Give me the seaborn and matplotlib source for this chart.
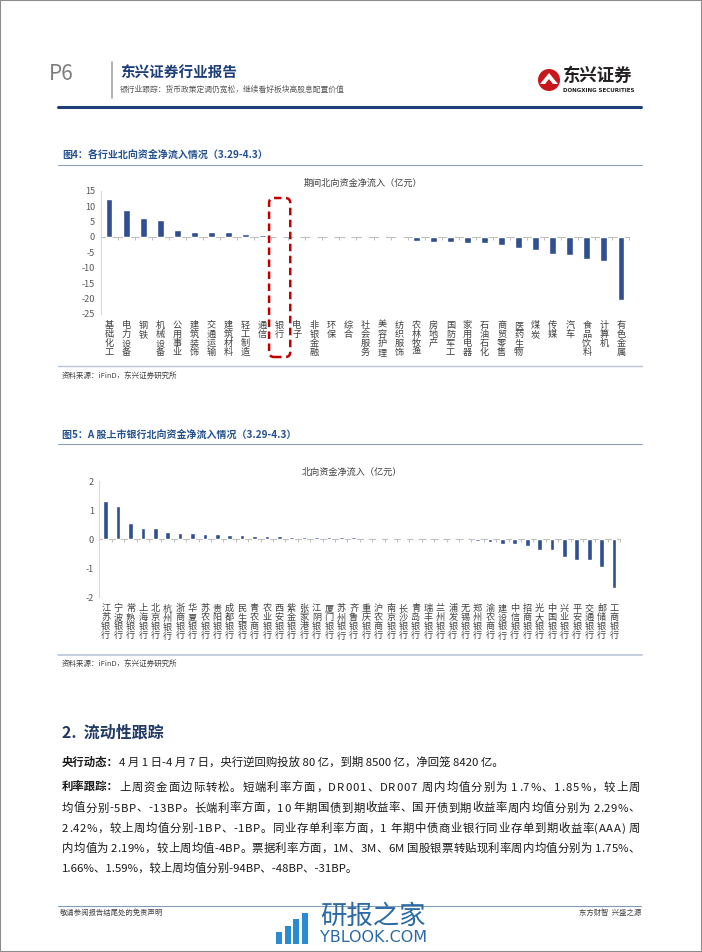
import matplotlib
matplotlib.use("Agg")
import matplotlib.pyplot as plt
import numpy as np
import pandas as pd
import seaborn as sns
from matplotlib.patches import FancyBboxPatch, Rectangle, Circle, Polygon
from matplotlib.transforms import IdentityTransform

# ---- data ----
industries = ["基础化工", "电力设备", "钢铁", "机械设备", "公用事业", "建筑装饰", "交通运输",
              "建筑材料", "轻工制造", "通信", "银行", "电子", "非银金融", "环保", "综合",
              "社会服务", "美容护理", "纺织服饰", "农林牧渔", "房地产", "国防军工", "家用电器",
              "石油石化", "商贸零售", "医药生物", "煤炭", "传媒", "汽车", "食品饮料", "计算机",
              "有色金属"]
industry_flow = [12.3, 8.6, 6.3, 5.5, 2.2, 1.7, 1.7, 1.5, 0.9, 0.65, 0.05, 0.1, 0.05, 0.0, -0.1,
                 -0.4, -0.4, -0.5, -1.3, -1.7, -1.7, -1.9, -1.9, -2.6, -3.6, -4.1, -5.6, -5.9,
                 -7.3, -7.7, -20.4]
industry_yticks = [15, 10, 5, 0, -5, -10, -15, -20, -25]

banks = ["江苏银行", "宁波银行", "常熟银行", "上海银行", "北京银行", "杭州银行", "浙商银行",
         "华夏银行", "苏农银行", "贵阳银行", "成都银行", "民生银行", "青农商行", "农业银行",
         "西安银行", "紫金银行", "张家港行", "江阴银行", "厦门银行", "苏州银行", "齐鲁银行",
         "重庆银行", "沪农商行", "南京银行", "长沙银行", "青岛银行", "瑞丰银行", "兰州银行",
         "浦发银行", "无锡银行", "郑州银行", "渝农商行", "建设银行", "中信银行", "招商银行",
         "光大银行", "中国银行", "兴业银行", "平安银行", "交通银行", "邮储银行", "工商银行"]
bank_flow = [1.30, 1.15, 0.55, 0.39, 0.37, 0.24, 0.20, 0.20, 0.17, 0.16, 0.13, 0.13, 0.12, 0.10,
             0.10, 0.09, 0.09, 0.09, 0.07, 0.07, 0.06, 0.05, 0.04, 0.04, 0.03, 0.01, 0.005, 0.0,
             0.0, -0.01, -0.06, -0.10, -0.15, -0.17, -0.23, -0.38, -0.39, -0.60, -0.70, -0.72,
             -0.96, -1.67]
bank_yticks = [2, 1, 0, -1, -2]

# (bold lead, text, justify to right margin?)
body_lines = [
    ("央行动态：", "4 月 1 日-4 月 7 日，央行逆回购投放 80 亿，到期 8500 亿，净回笼 8420 亿。", False),
    ("利率跟踪：", "上周资金面边际转松。短端利率方面，DR001、DR007 周内均值分别为 1.7%、1.85%，较上周", True),
    ("", "均值分别-5BP、-13BP。长端利率方面，10 年期国债到期收益率、国开债到期收益率周内均值分别为 2.29%、", True),
    ("", "2.42%，较上周均值分别-1BP、-1BP。同业存单利率方面，1 年期中债商业银行同业存单到期收益率(AAA) 周", True),
    ("", "内均值为 2.19%，较上周均值-4BP。票据利率方面，1M、3M、6M 国股银票转贴现利率周内均值分别为 1.75%、", True),
    ("", "1.66%、1.59%，较上周均值分别-94BP、-48BP、-31BP。", False),
]
body_y = [762, 787, 807.5, 828, 848, 868]

W, H = 702, 952
BAR = "#2F4F91"
NAVY = "#1F3F7A"
TITLE_BLUE = "#24518F"
RULE = "#8EA0B8"
BODY_FS = 8.2

sns.set_style("white")
plt.rcParams["font.family"] = ["Noto Sans CJK SC", "DejaVu Sans"]
plt.rcParams["axes.unicode_minus"] = False

fig = plt.figure(figsize=(W / 100, H / 100), dpi=100)
renderer = fig.canvas.get_renderer()


def fx(x):
    return x / W


def fy(y):
    return 1 - y / H


def text(x, y, s, **kw):
    kw.setdefault("va", "center")
    return fig.text(fx(x), fy(y), s, **kw)


def measure(s, **kw):
    t = fig.text(0, 0, s, **kw)
    w = t.get_window_extent(renderer).width
    t.remove()
    return w


def justified(x, y, s, right, **kw):
    """draw s from x so that it ends at right, spreading the gap over every character"""
    bar_w = measure("丨", **kw)
    starts = [measure(s[:i] + "丨", **kw) - bar_w for i in range(len(s))]
    extra = (right - x - measure(s, **kw)) / (len(s) - 1)
    for i, ch in enumerate(s):
        if ch != " ":
            text(x + starts[i] + i * extra, y, ch, va="baseline", **kw)


def hline(x0, x1, y, **kw):
    fig.add_artist(plt.Line2D([fx(x0), fx(x1)], [fy(y), fy(y)], **kw))


def add_axes(left, top, right, bottom):
    return fig.add_axes([fx(left), fy(bottom), (right - left) / W, (bottom - top) / H])


def bar_chart(ax, cats, vals, yticks, width):
    df = pd.DataFrame({"cat": cats, "val": vals})
    sns.barplot(data=df, x="cat", y="val", order=cats, color=BAR, saturation=1,
                width=width, errorbar=None, ax=ax, zorder=3)
    n = len(cats)
    ax.set_xlim(-0.5, n - 0.5)
    ax.set_ylim(min(yticks), max(yticks))
    ax.set_yticks(yticks)
    ax.set_xticks(range(n))
    ax.set_xticklabels(["\n".join(c) for c in cats], fontsize=6.6, linespacing=1.0,
                       color="#404040")
    ax.tick_params(axis="x", length=0, pad=5)
    ax.tick_params(axis="y", length=0, pad=4, labelsize=6.6, labelcolor="#595959")
    ax.set_xlabel("")
    ax.set_ylabel("")
    for s in ["top", "right", "bottom"]:
        ax.spines[s].set_visible(False)
    ax.spines["left"].set_color("#D9D9D9")
    ax.spines["left"].set_linewidth(0.8)
    ax.patch.set_alpha(0)
    # zero line with category boundary ticks
    loc = (0 - min(yticks)) / (max(yticks) - min(yticks))
    zero = ax.secondary_xaxis(loc)
    zero.set_alignment("bottom")
    zero.set_xticks(np.arange(n + 1) - 0.5)
    zero.set_xticklabels([])
    zero.tick_params(length=2.5, color="#BFBFBF", width=0.7, direction="out")
    zero.spines["bottom"].set_color("#BFBFBF")
    zero.spines["bottom"].set_linewidth(0.8)


# ---- page frame & header ----
fig.add_artist(Rectangle((0, 0), 1, 1, transform=fig.transFigure, fill=False,
                         ec="#8C8C8C", lw=1.5))
text(49, 74, "P6", fontsize=15, color="#7F7F7F")
fig.add_artist(plt.Line2D([fx(112), fx(112)], [fy(62), fy(98)], color="#A6A6A6", lw=1.2))
text(120, 73, "东兴证券行业报告", fontsize=10.5, fontweight="bold", color=NAVY)
text(120, 90, "银行业跟踪：货币政策定调仍宽松，继续看好板块高股息配置价值", fontsize=5.6,
     color="#595959")
fig.add_artist(Circle((549, H - 80), 11, transform=IdentityTransform(), fc="#C8161D", ec="none"))
fig.add_artist(Polygon([(540, H - 84), (549, H - 73), (558, H - 84), (553, H - 84),
                        (549, H - 79), (545, H - 84)], closed=True,
                       transform=IdentityTransform(), fc="white", ec="none"))
text(563, 76, "东兴证券", fontsize=12.5, fontweight="bold", color="#231F20")
text(563, 91, "DONGXING SECURITIES", fontsize=4.0, fontweight="bold", color="#231F20",
     family="DejaVu Sans")
hline(58, 641, 107, color=NAVY, lw=2.2)

# ---- figure 4 ----
text(62, 155, "图4：各行业北向资金净流入情况（3.29-4.3）", fontsize=7.2, fontweight="bold",
     color=TITLE_BLUE)
hline(58, 642, 165, color=RULE, lw=0.8)
text(363, 183, "期间北向资金净流入（亿元）", fontsize=6.6, color="#404040", ha="center")
ax1 = add_axes(100.5, 190.7, 629.5, 314)
bar_chart(ax1, industries, industry_flow, industry_yticks, 0.4)
hline(58, 642, 366, color="#B8C6D6", lw=1.0)
text(62, 376, "资料来源：iFinD，东兴证券研究所", fontsize=5.4, color="#404040", style="italic")

# red dashed box around the bank sector
idx = industries.index("银行")
xl = ax1.transData.transform((idx - 0.62, 0))[0]
xr = ax1.transData.transform((idx + 0.62, 0))[0]
fig.add_artist(FancyBboxPatch((xl, H - 357), xr - xl, 159, boxstyle="round,pad=0,rounding_size=5",
                              transform=IdentityTransform(), fill=False, ec="#C00000",
                              lw=1.8, ls=(0, (3, 1.8))))

# ---- figure 5 ----
text(62, 435, "图5：A 股上市银行北向资金净流入情况（3.29-4.3）", fontsize=7.2, fontweight="bold",
     color=TITLE_BLUE)
hline(58, 642, 444, color=RULE, lw=0.8)
text(352, 472, "北向资金净流入（亿元）", fontsize=6.6, color="#404040", ha="center")
ax2 = add_axes(99.5, 481, 620.2, 597.3)
bar_chart(ax2, banks, bank_flow, bank_yticks, 0.38)
hline(58, 642, 655, color="#B8C6D6", lw=1.2)
text(62, 664, "资料来源：iFinD，东兴证券研究所", fontsize=5.4, color="#404040", style="italic")

# ---- section 2 text ----
text(62, 733, "2.  流动性跟踪", fontsize=11.5, fontweight="bold", color="#1F3864")
for (bold, rest, just), y in zip(body_lines, body_y):
    x = 62
    base = y + 4
    if bold:
        t = text(x, base, bold, fontsize=BODY_FS, fontweight="bold", color="#1A1A1A",
                 va="baseline")
        x += t.get_window_extent(renderer).width
    if just:
        justified(x, base, rest, 640, fontsize=BODY_FS, color="#1A1A1A")
    else:
        text(x, base, rest, fontsize=BODY_FS, color="#1A1A1A", va="baseline")

# ---- footer ----
hline(58, 641, 906, color="#7F9DB9", lw=0.8)
text(60, 913, "敬请参阅报告结尾处的免责声明", fontsize=5.3, color="#404040")
text(641, 913, "东方财智  兴盛之源", fontsize=5.3, color="#404040", ha="right")
for i, hgt in enumerate([12, 18, 25, 31]):
    fig.add_artist(Rectangle((276 + i * 8.5, H - 944), 6, hgt, transform=IdentityTransform(),
                             fc="#2A8BD2", ec="none"))
text(320, 916, "研报之家", fontsize=19, color="#2C6AA6")
text(320, 938, "YBLOOK.COM", fontsize=11.5, color="#2C6AA6", family="DejaVu Sans")

fig.savefig("out.png", dpi=100)
